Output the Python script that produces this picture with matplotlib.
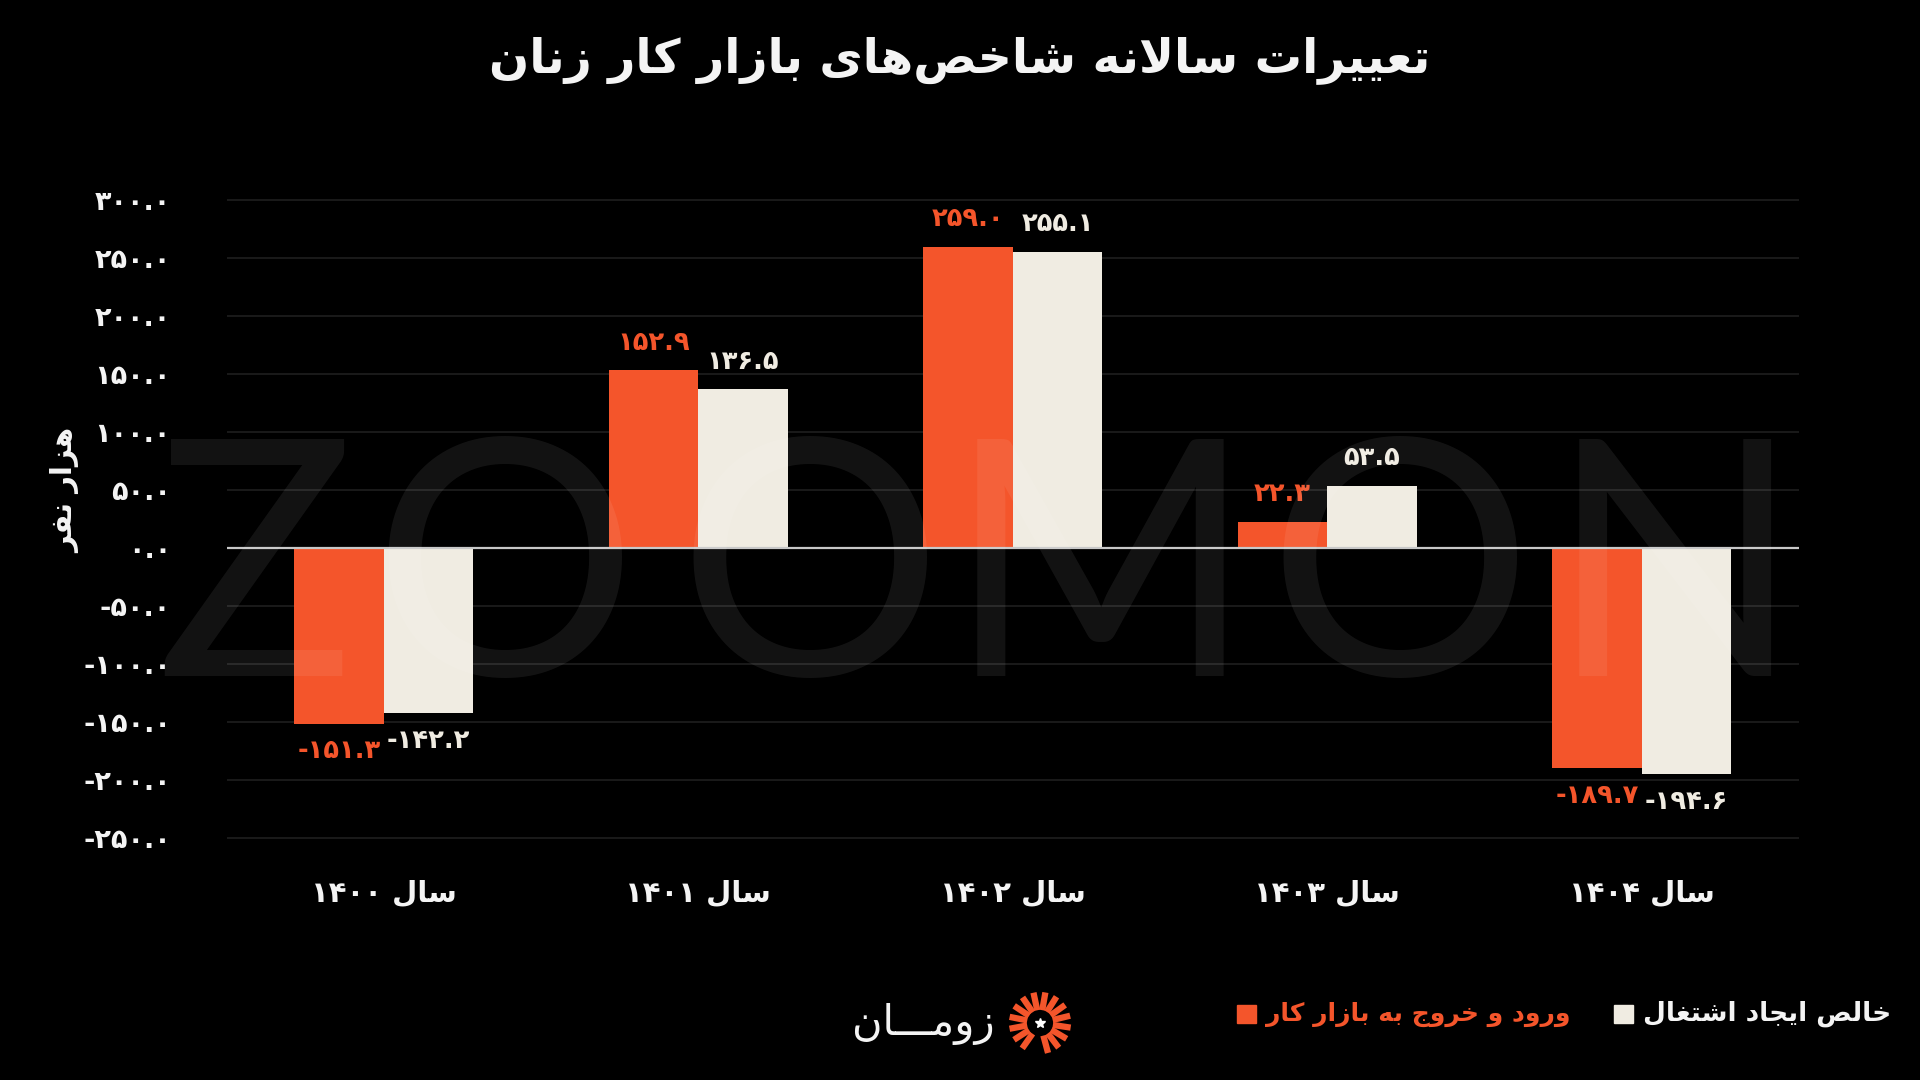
"""Yearly change of women's labour-market indicators (Zoomon style bar chart)."""

import re

import matplotlib

matplotlib.use("Agg")
import matplotlib.pyplot as plt  # noqa: E402
import numpy as np  # noqa: E402
from matplotlib.patches import Rectangle  # noqa: E402

# ---- data -------------------------------------------------------------------
years = ["۱۴۰۰", "۱۴۰۱", "۱۴۰۲", "۱۴۰۳", "۱۴۰۴"]
entry_exit = [-151.3, 152.9, 259.0, 22.3, -189.7]      # ورود و خروج به بازار کار
net_jobs = [-142.2, 136.5, 255.1, 53.5, -194.6]        # خالص ایجاد اشتغال
yticks = [-250, -200, -150, -100, -50, 0, 50, 100, 150, 200, 250, 300]

title = "تعییرات سالانه شاخص‌های بازار کار زنان"
ylabel = "هزار نفر"
year_prefix = "سال "
legend_net = "خالص ایجاد اشتغال"
legend_entry = "ورود و خروج به بازار کار"
brand = "زومـــان"
watermark = "ZOOMON"

ORANGE = "#F4552B"
CREAM = "#F0ECE2"
WHITE = "#F4F4F4"
FONT = "DejaVu Sans"

# ---- minimal Persian shaping (matplotlib has no complex text layout) --------
# isolated, final, initial, medial
FORMS = {
    "ا": ("\uFE8D", "\uFE8E", None, None),
    "ب": ("\uFE8F", "\uFE90", "\uFE91", "\uFE92"),
    "ت": ("\uFE95", "\uFE96", "\uFE97", "\uFE98"),
    "ج": ("\uFE9D", "\uFE9E", "\uFE9F", "\uFEA0"),
    "خ": ("\uFEA5", "\uFEA6", "\uFEA7", "\uFEA8"),
    "د": ("\uFEA9", "\uFEAA", None, None),
    "ر": ("\uFEAD", "\uFEAE", None, None),
    "ز": ("\uFEAF", "\uFEB0", None, None),
    "س": ("\uFEB1", "\uFEB2", "\uFEB3", "\uFEB4"),
    "ش": ("\uFEB5", "\uFEB6", "\uFEB7", "\uFEB8"),
    "ص": ("\uFEB9", "\uFEBA", "\uFEBB", "\uFEBC"),
    "ع": ("\uFEC9", "\uFECA", "\uFECB", "\uFECC"),
    "غ": ("\uFECD", "\uFECE", "\uFECF", "\uFED0"),
    "ف": ("\uFED1", "\uFED2", "\uFED3", "\uFED4"),
    "ل": ("\uFEDD", "\uFEDE", "\uFEDF", "\uFEE0"),
    "م": ("\uFEE1", "\uFEE2", "\uFEE3", "\uFEE4"),
    "ن": ("\uFEE5", "\uFEE6", "\uFEE7", "\uFEE8"),
    "ه": ("\uFEE9", "\uFEEA", "\uFEEB", "\uFEEC"),
    "و": ("\uFEED", "\uFEEE", None, None),
    "ی": ("\uFBFC", "\uFBFD", "\uFBFE", "\uFBFF"),
    "ک": ("\uFB8E", "\uFB8F", "\uFB90", "\uFB91"),
    "ـ": ("ـ", "ـ", "ـ", "ـ"),
    "LA": ("\uFEFB", "\uFEFC", None, None),
}


def shape(word):
    toks = []
    i = 0
    while i < len(word):
        if word[i] == "ل" and i + 1 < len(word) and word[i + 1] == "ا":
            toks.append("LA")
            i += 2
        else:
            toks.append(word[i])
            i += 1
    out = []
    for k, t in enumerate(toks):
        if t not in FORMS:
            if t != "\u200c":
                out.append(t)
            continue
        prev = toks[k - 1] if k > 0 else None
        nxt = toks[k + 1] if k + 1 < len(toks) else None
        jp = prev in FORMS and FORMS[prev][2] is not None
        jn = FORMS[t][2] is not None and nxt in FORMS
        iso, fin, ini, med = FORMS[t]
        out.append(med if jp and jn else fin if jp else ini if jn else iso)
    return "".join(out)


def rtl(text):
    runs = re.findall(r"[۰-۹0-9.\-]+|[^۰-۹0-9.\-]+", text)
    vis = []
    for r in reversed(runs):
        vis.append(r if re.fullmatch(r"[۰-۹0-9.\-]+", r) else shape(r)[::-1])
    return "".join(vis)


def fa_num(v):
    return f"{v:.1f}".translate(str.maketrans("0123456789", "۰۱۲۳۴۵۶۷۸۹"))


# ---- figure -----------------------------------------------------------------
fig = plt.figure(figsize=(19.2, 10.8), dpi=100, facecolor="black")
ax = fig.add_axes([0.118, 0.211, 0.819, 0.617], facecolor="black")

x = np.arange(len(years))
w = 0.285
ax.bar(x - w / 2, entry_exit, w, color=ORANGE, zorder=2)
ax.bar(x + w / 2, net_jobs, w, color=CREAM, zorder=2)

for xi, v in zip(x, entry_exit):
    off = 24 if v >= 0 else -24
    ax.text(xi - w / 2, v + off, fa_num(v), color=ORANGE,
            ha="center", va="center", fontsize=18.5, fontweight="bold", family=FONT)
for xi, v in zip(x, net_jobs):
    off = 24 if v >= 0 else -24
    ax.text(xi + w / 2, v + off, fa_num(v), color=CREAM,
            ha="center", va="center", fontsize=18.5, fontweight="bold", family=FONT)

ax.set_xlim(-0.5, len(years) - 0.5)
ax.set_ylim(-262, 312)
ax.set_yticks(yticks)
ax.set_yticklabels([fa_num(t) for t in yticks], color=WHITE, fontsize=19.5,
                   fontweight="bold", family=FONT)
ax.set_xticks(x)
ax.set_xticklabels([rtl(year_prefix + y) for y in years], color=WHITE, fontsize=21,
                   fontweight="bold", family=FONT)
ax.tick_params(axis="y", length=0, pad=40)
ax.tick_params(axis="x", length=0, pad=20)
for t in yticks:
    if t != 0:
        ax.axhline(t, color="#1f1f1f", lw=1.2, zorder=1)
ax.axhline(0, color="#c8c8c8", lw=1.6, zorder=3)
for s in ax.spines.values():
    s.set_visible(False)

# faint watermark letters laid over the plot
wm_centres = [255, 505, 810, 1100, 1400, 1675]
for ch, cxp in zip(watermark, wm_centres):
    fig.text(cxp / 1920, 0.374, ch, color="white", alpha=0.075, fontsize=238,
             family="Lato", fontweight="normal", ha="center", va="baseline", zorder=10)

fig.text(0.5, 0.944, rtl(title), color=WHITE, fontsize=34, fontweight="bold",
         family=FONT, ha="center", va="center")
fig.text(0.034, 0.546, rtl(ylabel), color=WHITE, fontsize=21, fontweight="bold",
         family=FONT, rotation=90, ha="center", va="center")

# legend (bottom right): squares sit just left of each label
ly = 0.061
fig.canvas.draw()
renderer = fig.canvas.get_renderer()
for label, tcol, scol, right, size in [(legend_net, WHITE, CREAM, 0.985, 19),
                                       (legend_entry, ORANGE, ORANGE, 0.818, 18)]:
    t = fig.text(right, ly, rtl(label), color=tcol, fontsize=size, fontweight="bold",
                 family=FONT, ha="right", va="center")
    x0 = t.get_window_extent(renderer).x0 / 1920
    fig.patches.append(Rectangle((x0 - 0.015, ly - 0.0085), 0.0095, 0.017, color=scol,
                                 transform=fig.transFigure, figure=fig))

# brand mark
fig.text(0.518, 0.052, rtl(brand), color=WHITE, fontsize=30, family=FONT,
         ha="right", va="center")
cx, cy = 1040, 1080 - 1023
for ang in np.linspace(-75, 235, 15):
    a = np.deg2rad(ang)
    r0, r1 = 13, 31
    fig.add_artist(plt.Line2D([cx + r0 * np.cos(a), cx + r1 * np.cos(a)],
                              [cy + r0 * np.sin(a), cy + r1 * np.sin(a)],
                              transform=None, color=ORANGE, lw=4.5,
                              solid_capstyle="butt"))
fig.add_artist(plt.Line2D([cx], [cy], transform=None, marker="*", color="white",
                          markersize=7, lw=0))

fig.savefig("out.png", dpi=100, facecolor="black")
